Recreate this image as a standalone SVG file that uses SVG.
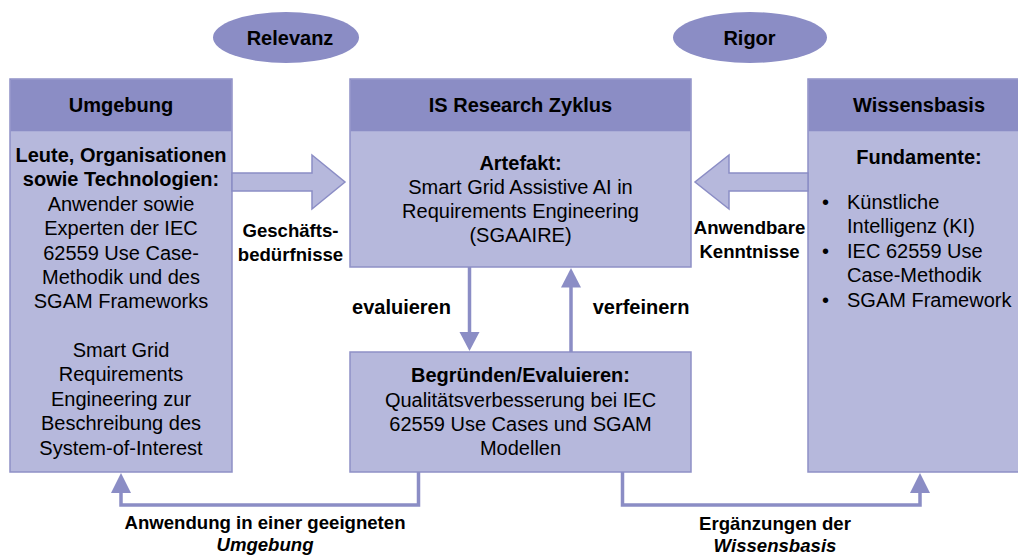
<svg xmlns="http://www.w3.org/2000/svg" width="1018" height="556" viewBox="0 0 1018 556">
<defs>
<style>
.body{fill:#b6b8dc;stroke:#8e90c6;stroke-width:1.5}
.head{fill:#8b8dc5}
.ell{fill:#8b8dc5}
.blk{fill:#b6b8dc;stroke:#8b8dc5;stroke-width:1.5}
.con{fill:none;stroke:#8b8dc5;stroke-width:3.5}
.ah{fill:#8b8dc5}
text{font-family:"Liberation Sans",Arial,sans-serif;fill:#000;text-anchor:middle}
.t{font-size:20px}
.b{font-size:20px;font-weight:bold}
.l{font-size:18.6px;font-weight:bold}
.li{font-size:18.6px;font-weight:bold;font-style:italic}
.lt{text-anchor:start}
</style>
</defs>
<g id="relevanz">
<ellipse class="ell" cx="286" cy="37.5" rx="73" ry="25.5"/>
<text class="b" x="290" y="44.5">Relevanz</text>
</g>
<g id="rigor">
<ellipse class="ell" cx="750" cy="37.5" rx="77" ry="25.5"/>
<text class="b" x="749.5" y="44.5">Rigor</text>
</g>
<g id="umgebung">
<rect class="body" x="10" y="79" width="222" height="393"/>
<rect class="head" x="10.75" y="79.75" width="220.5" height="51.5"/>
<text class="b" x="121" y="112">Umgebung</text>
<text class="b" x="121" y="162">Leute, Organisationen</text>
<text class="b" x="121" y="186">sowie Technologien:</text>
<text class="t" x="121" y="210.5">Anwender sowie</text>
<text class="t" x="121" y="235">Experten der IEC</text>
<text class="t" x="121" y="259.5">62559 Use Case-</text>
<text class="t" x="121" y="284">Methodik und des</text>
<text class="t" x="121" y="308">SGAM Frameworks</text>
<text class="t" x="121" y="357">Smart Grid</text>
<text class="t" x="121" y="381">Requirements</text>
<text class="t" x="121" y="406">Engineering zur</text>
<text class="t" x="121" y="430">Beschreibung des</text>
<text class="t" x="121" y="455">System-of-Interest</text>
</g>
<g id="is-research">
<rect class="body" x="350" y="79" width="341" height="188"/>
<rect class="head" x="350.75" y="79.75" width="339.5" height="51.5"/>
<text class="b" x="520.5" y="112">IS Research Zyklus</text>
<text class="b" x="520.5" y="169.5">Artefakt:</text>
<text class="t" x="520.5" y="193.5">Smart Grid Assistive AI in</text>
<text class="t" x="520.5" y="218">Requirements Engineering</text>
<text class="t" x="520.5" y="242">(SGAAIRE)</text>
</g>
<g id="begruenden">
<rect class="body" x="350" y="352" width="341" height="120"/>
<text class="b" x="520.5" y="382">Begründen/Evaluieren:</text>
<text class="t" x="520.5" y="406.5">Qualitätsverbesserung bei IEC</text>
<text class="t" x="520.5" y="431">62559 Use Cases und SGAM</text>
<text class="t" x="520.5" y="455">Modellen</text>
</g>
<g id="wissensbasis">
<rect class="body" x="808" y="79" width="222" height="393"/>
<rect class="head" x="808.75" y="79.75" width="220.5" height="51.5"/>
<text class="b" x="919" y="112">Wissensbasis</text>
<text class="b" x="919" y="164">Fundamente:</text>
<text class="t" x="825.5" y="208.5">•</text>
<text class="t lt" x="847" y="208.5">Künstliche</text>
<text class="t lt" x="847" y="233">Intelligenz (KI)</text>
<text class="t" x="825.5" y="258">•</text>
<text class="t lt" x="847" y="258">IEC 62559 Use</text>
<text class="t lt" x="847" y="282">Case-Methodik</text>
<text class="t" x="825.5" y="306.5">•</text>
<text class="t lt" x="847" y="306.5">SGAM Framework</text>
</g>
<g id="connectors">
<polygon class="blk" points="232,173 312,173 312,155 345,182 312,209 312,191 232,191"/>
<polygon class="blk" points="808,173 729,173 729,155 695,182 729,209 729,191 808,191"/>
<line class="con" x1="469.5" y1="267" x2="469.5" y2="334"/>
<polygon class="ah" points="459.5,332 479.5,332 469.5,351"/>
<line class="con" x1="571" y1="352" x2="571" y2="285"/>
<polygon class="ah" points="561,287.5 581,287.5 571,268"/>
<path class="con" d="M418.5,472 V505 H121 V490"/>
<polygon class="ah" points="111,493 131,493 121,473"/>
<path class="con" d="M622.5,472 V505 H920 V490"/>
<polygon class="ah" points="910,493 930,493 920,473"/>
<text class="l" x="290.5" y="237">Geschäfts-</text>
<text class="l" x="290.5" y="260.5">bedürfnisse</text>
<text class="l" x="749.5" y="233.5">Anwendbare</text>
<text class="l" x="749.5" y="258">Kenntnisse</text>
<text class="b" x="401.5" y="313.5">evaluieren</text>
<text class="b" x="641" y="313.5">verfeinern</text>
<text class="l" x="265" y="528.5">Anwendung in einer geeigneten</text>
<text class="li" x="265" y="550.5">Umgebung</text>
<text class="l" x="775" y="530">Ergänzungen der</text>
<text class="li" x="775" y="551.5">Wissensbasis</text>
</g>
</svg>
